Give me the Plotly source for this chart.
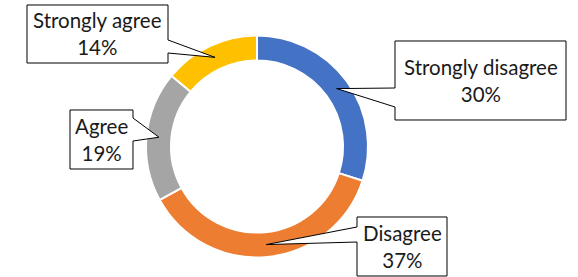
import math
import plotly.graph_objects as go

categories = ["Strongly disagree", "Disagree", "Agree", "Strongly agree"]
values = [30, 37, 19, 14]
colors = ["#4472C4", "#ED7D31", "#A5A5A5", "#FFC000"]

W, H = 578, 277
# donut geometry (pixels)
CX, CY, R_OUT, HOLE = 257, 146.5, 111, 0.775

# callout boxes: (x0, y0, x1, y1) in pixels, side of pointer, pointer base (a, b)
boxes = [
    (395, 41, 566, 120, "left", 88, 107),
    (357, 217, 447, 276, "left", 227, 242),
    (70, 110, 133, 169, "right", 118, 141),
    (27, 5, 168, 63, "right", 40, 53),
]

def px(x):
    return x / W

def py(y):
    return 1 - y / H

fig = go.Figure(go.Pie(
    labels=categories, values=values, hole=HOLE, sort=False,
    direction="clockwise", rotation=0,
    marker=dict(colors=colors, line=dict(color="white", width=2)),
    textinfo="none", hoverinfo="label+percent", showlegend=False,
    domain=dict(x=[px(CX - R_OUT), px(CX + R_OUT)], y=[py(CY + R_OUT), py(CY - R_OUT)]),
))

total = sum(values)
cum = 0
shapes, annotations = [], []
r_mid = R_OUT * (1 + HOLE) / 2
for cat, v, b in zip(categories, values, boxes):
    mid = (cum + v / 2) / total * 2 * math.pi
    cum += v
    tx = CX + r_mid * math.sin(mid)
    ty = CY - r_mid * math.cos(mid)
    x0, y0, x1, y1, side, a, bb = b
    if side == "left":
        pts = [(x0, y0), (x1, y0), (x1, y1), (x0, y1), (x0, bb), (tx, ty), (x0, a)]
    else:
        pts = [(x0, y0), (x1, y0), (x1, a), (tx, ty), (x1, bb), (x1, y1), (x0, y1)]
    path = "M " + " L ".join(f"{px(X):.5f},{py(Y):.5f}" for X, Y in pts) + " Z"
    shapes.append(dict(type="path", xref="paper", yref="paper", path=path,
                       fillcolor="white", line=dict(color="black", width=1)))
    annotations.append(dict(
        x=px((x0 + x1) / 2), y=py((y0 + y1) / 2), xref="paper", yref="paper",
        text=f"{cat}<br>{round(v / total * 100)}%", showarrow=False,
        font=dict(family="Lato", size=20.5, color="#1a1a1a"),
        xanchor="center", yanchor="middle", align="center"))

fig.update_layout(
    width=W, height=H, margin=dict(l=0, r=0, t=0, b=0),
    paper_bgcolor="white", plot_bgcolor="white",
    shapes=shapes, annotations=annotations,
)
fig.write_html("out.html", config={"displayModeBar": False},
               post_script="document.body.style.margin='0';")
